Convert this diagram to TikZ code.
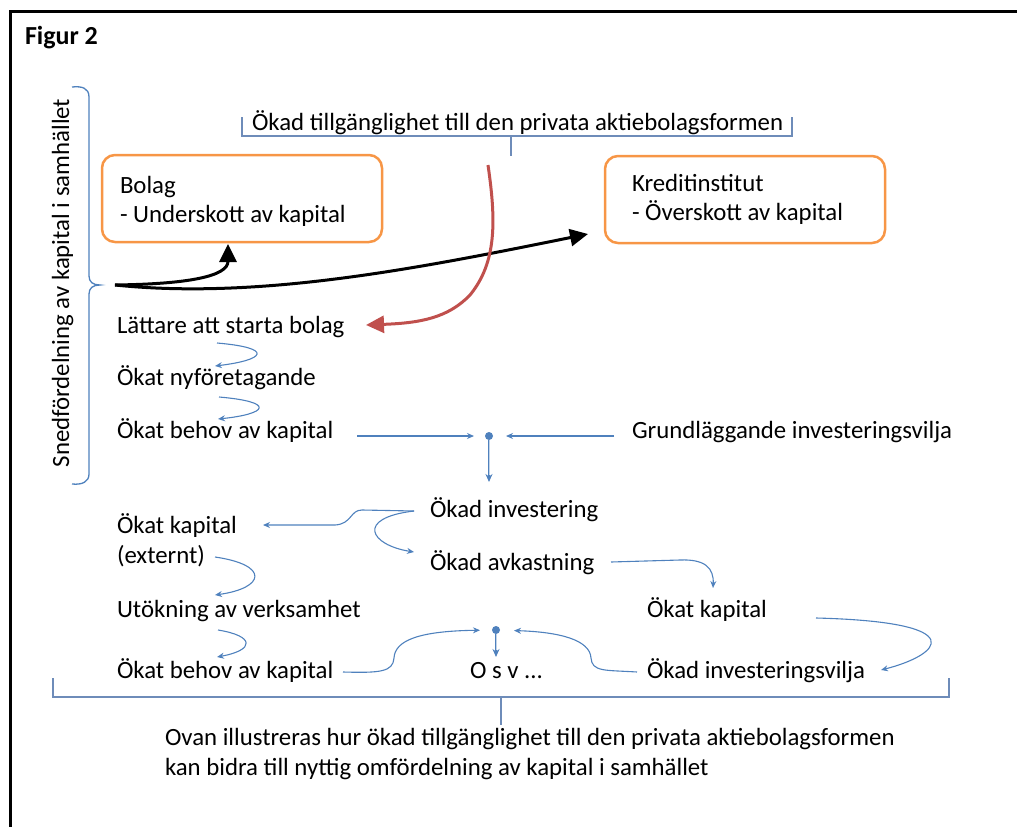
\documentclass[tikz,border=0pt]{standalone}
\usepackage{fontspec}
\setmainfont{Carlito}
\usetikzlibrary{arrows.meta}
\definecolor{blu}{RGB}{79,129,189}
\definecolor{brk}{RGB}{110,140,185}
\definecolor{org}{RGB}{247,150,70}
\definecolor{rd}{RGB}{192,80,77}
\begin{document}
\begin{tikzpicture}[x=1pt,y=-1pt,
  every node/.style={inner sep=0pt, outer sep=0pt},
  lbl/.style={font=\fontsize{24.8}{29}\selectfont, anchor=base west},
  thinarrow/.style={draw=blu, line width=1.1pt, -{Stealth[length=7pt,width=6pt]}},
  bigarrow/.style={line width=3pt, -{Triangle[length=18pt,width=17pt]}},
  boxstyle/.style={draw=org, line width=2.5pt, rounded corners=13pt, minimum width=280pt, minimum height=87pt, anchor=north west},
  bracket/.style={draw=brk, line width=1.1pt},
  dotnode/.style={circle, fill=blu, minimum size=8pt},
  dblline/.style={draw=blu, line width=2.4pt, -{Stealth[length=8pt,width=7pt]}},
  dblcore/.style={draw=blu!35, line width=0.8pt},
]
\useasboundingbox (0,0) rectangle (1017,827);
% frame
\draw[line width=3pt] (1017,11) -- (10,11) -- (10,827);

% title
\node[font=\bfseries\fontsize{26}{30}\selectfont, anchor=base west] (fig) at (25,44) {Figur 2};

% left brace and its label
\draw[draw=blu, line width=1.3pt] (72,87) .. controls (82,86) and (89,88) .. (89,97) -- (89,276)
  .. controls (89,282) and (93,285) .. (100,285) .. controls (93,285) and (89,288) .. (89,294)
  -- (89,474) .. controls (89,482) and (82,485) .. (72,484);
\node[lbl, rotate=90, anchor=base] (sned) at (69,283) {Snedfördelning av kapital i samhället};

% top bracket
\node[lbl] (topt) at (252,130) {Ökad tillgänglighet till den privata aktiebolagsformen};
\draw[bracket] (242,117) -- (242,136) -- (792,136) -- (792,117);
\draw[bracket] (511,136) -- (511,156);

% boxes
\node[boxstyle] (bolag) at (102,155) {};
\node[lbl] (bolagA) at (120,193) {Bolag};
\node[lbl] (bolagB) at (120,222) {- Underskott av kapital};
\node[boxstyle] (kredit) at (605,156) {};
\node[lbl] (kreditA) at (632,191) {Kreditinstitut};
\node[lbl] (kreditB) at (632,220) {- Överskott av kapital};

% left column
\node[lbl] (lat) at (117,333) {Lättare att starta bolag};
\node[lbl] (nyf) at (117,385) {Ökat nyföretagande};
\node[lbl] (beh1) at (117,438) {Ökat behov av kapital};
\node[lbl] (grund) at (632,438) {Grundläggande investeringsvilja};
\node[dotnode] (dot1) at (489,436) {};

\node[lbl] (inv) at (430,517) {Ökad investering};
\node[lbl] (avk) at (430,570) {Ökad avkastning};
\node[lbl] (kap) at (117,533) {Ökat kapital};
\node[lbl] (ext) at (117,563) {(externt)};
\node[lbl] (utok) at (117,617) {Utökning av verksamhet};
\node[lbl] (beh2) at (117,678) {Ökat behov av kapital};
\node[lbl] (osv) at (470,678) {O s v ...};
\node[lbl] (kap2) at (647,617) {Ökat kapital};
\node[lbl] (ivilja) at (647,678) {Ökad investeringsvilja};
\node[dotnode] (dot2) at (496,630) {};

% bottom bracket and text
\draw[bracket] (53,678) -- (53,697) -- (949,697) -- (949,678);
\draw[bracket] (501,697) -- (501,725);
\node[lbl] (botA) at (165,745) {Ovan illustreras hur ökad tillgänglighet till den privata aktiebolagsformen};
\node[lbl] (botB) at (165,775) {kan bidra till nyttig omfördelning av kapital i samhället};

% black arrows
\coordinate (src) at (115,285);
\coordinate (bolin) at (228,244);
\coordinate (kredin) at (588,234);
\draw[bigarrow] (src) .. controls (190,284) and (228,276) .. (bolin);
\draw[bigarrow] (src) .. controls (260,300) and (420,268) .. (kredin);

% red arrow
\coordinate (rstart) at (488,165);
\coordinate (latin) at (366,325);
\draw[draw=rd, line width=3pt, -{Triangle[length=18pt,width=17pt]}] (rstart) .. controls (496,220) and (497,262) .. (470,295) .. controls (448,318) and (420,323) .. (latin);

% small curved arrows in left column
\draw[thinarrow] (217,343) .. controls (275,348) and (265,360) .. (215,366);
\draw[thinarrow] (219,397) .. controls (277,402) and (267,414) .. (218,419);
\draw[thinarrow] (215,557) .. controls (270,565) and (265,588) .. (215,595);
\draw[thinarrow] (218,630) .. controls (255,636) and (255,650) .. (217,657);

% into and out of dot 1
\draw[thinarrow, shorten >=11pt] (357,436) -- (dot1);
\draw[thinarrow, shorten >=13pt] (614,436) -- (dot1);
\draw[dblline] (dot1) -- (489,482);
\draw[dblcore] (dot1) -- (489,475);

% from investering
\draw[thinarrow] (414,511) -- (362,510) .. controls (350,510) and (352,524) .. (335,525) -- (263,525);
\draw[thinarrow] (414,511) .. controls (355,518) and (370,545) .. (414,552);

% avkastning -> kapital
\draw[thinarrow] (611,562) -- (680,560) .. controls (705,559) and (714,568) .. (713,588);
% kapital -> investeringsvilja
\draw[thinarrow] (816,618) .. controls (975,622) and (940,655) .. (881,670);

% into and out of dot 2
\draw[thinarrow, shorten >=12pt] (343,672) .. controls (380,673) and (393,672) .. (394,658) .. controls (395,640) and (420,631) .. (dot2);
\draw[thinarrow, shorten >=14pt] (637,672) .. controls (605,670) and (592,672) .. (591,658) .. controls (590,640) and (560,632) .. (dot2);
\draw[dblline] (dot2) -- (496,657);
\draw[dblcore] (dot2) -- (496,650);
\end{tikzpicture}
\end{document}
